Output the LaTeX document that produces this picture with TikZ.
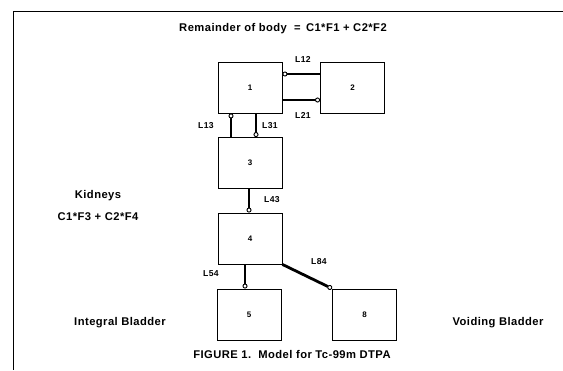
\documentclass[tikz,border=0pt]{standalone}
\usepackage{fontspec}
\newfontfamily\bfam{Liberation Sans Bold}[LetterSpace=4]
\usetikzlibrary{arrows.meta}
\newcommand\bigtxt{\bfam\fontsize{11.2}{13}\selectfont}
\newcommand\lbltxt{\bfam\fontsize{8.6}{10}\selectfont}
\newcommand\numtxt{\bfam\fontsize{8}{9}\selectfont}
\begin{document}
\begin{tikzpicture}[x=1pt,y=-1pt,
  comp/.style={draw,line width=0.9pt,minimum width=64pt,minimum height=51pt,inner sep=0pt,font=\numtxt},
  link/.style={line width=2.8pt,-{Circle[length=5pt,line width=0.9pt,fill=white]}},
  lab/.style={font=\lbltxt,inner sep=0pt},
  txt/.style={font=\bigtxt,inner sep=0pt}]
\useasboundingbox (0,0) rectangle (563,370);
\draw[line width=0.8pt] (563,11) -- (13,11) -- (13,370);
% compartments
\node[comp] (b1) at (250,87.5) {1};
\node[comp] (b2) at (352.5,87.5) {2};
\node[comp] (b3) at (250,163) {3};
\node[comp] (b4) at (250,238.5) {4};
\node[comp] (b5) at (249,314.5) {5};
\node[comp] (b8) at (364.5,314.5) {8};
% connectors
\draw[link] ([yshift=13.5pt]b2.west) -- ([yshift=13.5pt]b1.east);
\draw[link] ([yshift=-12.5pt]b1.east) -- ([yshift=-12.5pt]b2.west);
\draw[link] ([xshift=-19pt]b3.north) -- ([xshift=-19pt]b1.south);
\draw[link] ([xshift=6pt]b1.south) -- ([xshift=6pt]b3.north);
\draw[link] ([xshift=-1pt]b3.south) -- ([xshift=-1pt]b4.north);
\draw[link] ([xshift=-5pt]b4.south) -- ([xshift=-4pt]b5.north);
\draw[link] (b4.south east) -- (b8.north west);
% labels
\node[lab] (l12) at (303,59) {L12};
\node[lab] (l21) at (303,115) {L21};
\node[lab] (l13) at (206,126) {L13};
\node[lab] (l31) at (270,126) {L31};
\node[lab] (l43) at (272,200) {L43};
\node[lab] (l54) at (211,274) {L54};
\node[lab] (l84) at (319,262) {L84};
% texts
\node[txt] (rem) at (283,29) {Remainder of body \ =\ \,C1*F1 + C2*F2};
\node[txt] (kid) at (98,196) {Kidneys};
\node[txt] (kidf) at (98,217) {C1*F3 + C2*F4};
\node[txt] (ib) at (120,323) {Integral Bladder};
\node[txt] (vb) at (498,323) {Voiding Bladder};
\node[txt] (cap) at (292,354) {FIGURE 1.\ \ Model for Tc-99m DTPA};
\end{tikzpicture}
\end{document}
